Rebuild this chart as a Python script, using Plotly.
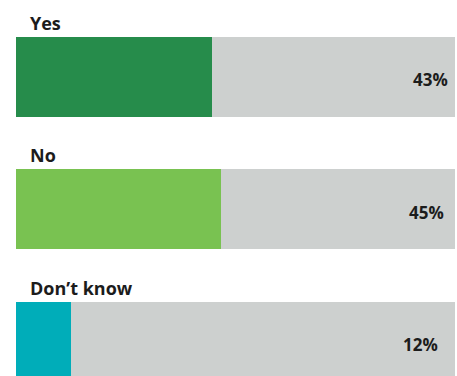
import plotly.graph_objects as go

# Survey answers and their shares (%)
answers = ["Yes", "No", "Don\u2019t know"]
shares = [43, 45, 12]
fill_colors = ["#268c4b", "#79c251", "#00adb9"]
track_color = "#cdd0cf"
text_color = "#1c1c1c"

# horizontal nudge (px) of each percentage label from the right edge
pct_offsets = [-5, -9, -15]

rows = list(range(len(answers)))
remainder = [100 - s for s in shares]

fig = go.Figure()

# Coloured share bars
fig.add_trace(go.Bar(
    y=rows, x=shares, orientation="h",
    marker=dict(color=fill_colors, line=dict(width=0)),
    width=0.604, hoverinfo="skip", showlegend=False,
))
# Grey remainder track up to 100%
fig.add_trace(go.Bar(
    y=rows, x=remainder, orientation="h",
    marker=dict(color=track_color, line=dict(width=0)),
    width=0.604, hoverinfo="skip", showlegend=False,
))

font_family = "Open Sans, Noto Sans, sans-serif"
annotations = []
for r, name, val, dx in zip(rows, answers, shares, pct_offsets):
    # answer label above each bar
    annotations.append(dict(
        x=0, xref="paper", xanchor="left", xshift=12,
        y=r - 0.302, yref="y", yanchor="bottom", yshift=0,
        text=f"<b>{name}</b>", showarrow=False,
        font=dict(family=font_family, size=18, color=text_color),
    ))
    # percentage at the right end of the track
    annotations.append(dict(
        x=1, xref="paper", xanchor="right", xshift=dx,
        y=r, yref="y", yanchor="middle", yshift=-3,
        text=f"<b>{val}%</b>", showarrow=False,
        font=dict(family=font_family, size=17, color=text_color),
    ))

fig.update_layout(
    barmode="stack",
    width=457, height=376,
    margin=dict(l=16, r=2, t=0, b=0),
    paper_bgcolor="white", plot_bgcolor="white",
    annotations=annotations,
    xaxis=dict(range=[0, 96.3], visible=False, fixedrange=True),
    yaxis=dict(range=[2.257, -0.581], visible=False, fixedrange=True),
)

fig.write_html("out.html", config=dict(displayModeBar=False))
